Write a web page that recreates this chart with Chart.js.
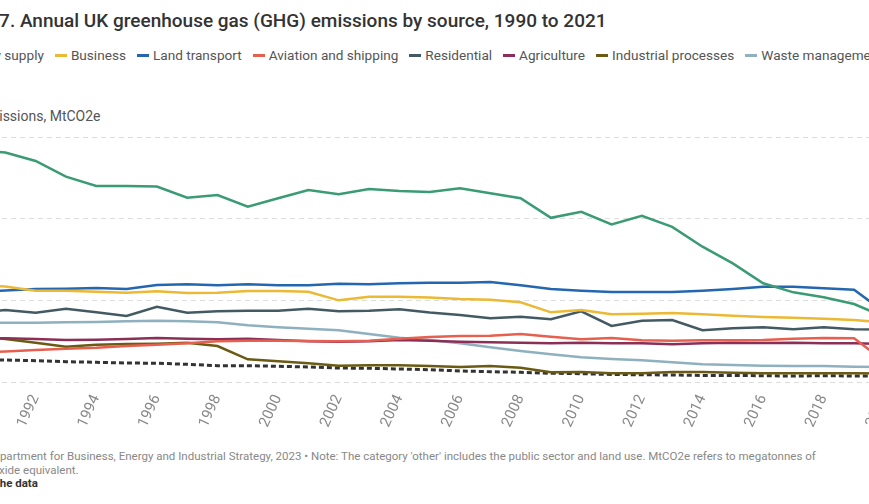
<!DOCTYPE html>
<html>
<head>
<meta charset="utf-8">
<script src="https://cdn.jsdelivr.net/npm/chart.js@4.4.0/dist/chart.umd.min.js"></script>
<style>
html, body { margin: 0; padding: 0; background: #fff; overflow: hidden; width: 869px; height: 504px; }
#wrap { position: absolute; left: -61px; top: 0; width: 1010px; height: 504px; font-family: Roboto, sans-serif; }
#title { position: absolute; left: 2px; top: 9px; font-size: 19px; font-weight: 500; color: #333; white-space: nowrap; }
#legend { position: absolute; left: 5px; top: 46px; display: flex; font-size: 13.6px; color: #555; white-space: nowrap; line-height: 18px; }
.item { display: flex; align-items: center; margin-right: 11px; }
.mark { width: 12px; height: 0; border-top: 3px solid; margin-right: 4px; }
#ytitle { position: absolute; left: 40px; top: 108px; font-size: 14px; color: #555; white-space: nowrap; }
#chartBox { position: absolute; left: 0; top: 117px; width: 1002px; height: 323px; }
#footer { position: absolute; left: 6px; top: 450px; font-size: 11.5px; color: #888; line-height: 13.5px; white-space: nowrap; }
#footer b { color: #333; margin-left: 30px; }
</style>
</head>
<body>
<div id="wrap">
  <div id="title">Figure 7. Annual UK greenhouse gas (GHG) emissions by source, 1990 to 2021</div>
  <div id="legend"></div>
  <div id="ytitle">Emissions, MtCO2e</div>
  <div id="chartBox"><canvas id="myChart" width="1002" height="323"></canvas></div>
  <div id="footer">Source: Department for Business, Energy and Industrial Strategy, 2023 • Note: The category 'other' includes the public sector and land use. MtCO2e refers to megatonnes of<br>carbon dioxide equivalent.<br><b>Get the data</b></div>
</div>
<script>
const years = ['1990','1991','1992','1993','1994','1995','1996','1997','1998','1999','2000','2001','2002','2003','2004','2005',
  '2006','2007','2008','2009','2010','2011','2012','2013','2014','2015','2016','2017','2018','2019','2020','2021'];
const xTickLabels = ['1990','1992','1994','1996','1998','2000','2002','2004','2006','2008','2010','2012','2014','2016','2018','2020'];
const yTicks = [0, 100, 200, 300];

const names = ['Energy supply', 'Business', 'Land transport', 'Aviation and shipping', 'Residential',
  'Agriculture', 'Industrial processes', 'Waste management', 'Other'];
const colors = ['#3a9b74', '#ecb934', '#2467b0', '#e5604e', '#435a63', '#8c2f57', '#6b5a14', '#8eb0bf', '#333333'];

const energySupply = [284, 281, 270.6, 251.4, 240, 240, 239.4, 225.7, 229, 214.6, 225, 235, 230, 236.3, 233.9, 232.6,
  237.2, 231, 225, 201, 208.5, 193, 203.6, 190, 165.7, 145.3, 120.9, 109.8, 103.7, 95.5, 79.6, 82];
const business = [118.8, 116.9, 111.8, 111.8, 110.6, 109.3, 111.1, 109, 109.3, 111.4, 111.4, 110.6, 100, 104.4, 104.4, 103.4,
  101.6, 100.8, 97.6, 85.3, 88.2, 82.9, 83.6, 84.5, 82.9, 81.2, 79.6, 78.7, 77.5, 75.9, 72.9, 73.5];
const landTransport = [110.2, 112, 113.9, 114.2, 115.1, 113.9, 118.8, 119.6, 118.4, 119.6, 118.4, 118.4, 120.4, 119.6, 120.9, 121.6,
  121.6, 122.4, 118.4, 113.9, 111.8, 110.2, 110.2, 110.2, 111.8, 113.9, 116.7, 116.7, 114.7, 113, 85.7, 100.4];
const aviationShipping = [36.1, 37.3, 39.2, 40.8, 42, 44.1, 45.7, 47.4, 49.8, 50.6, 50.6, 50.2, 49.8, 50.6, 53, 55.1,
  56.3, 56.7, 58.8, 55.5, 52.3, 53.9, 51.1, 50.6, 51.1, 51.1, 51.4, 53, 53.9, 53.5, 25.3, 24.5];
const residential = [84.5, 88.2, 84.9, 89.8, 85.3, 80.8, 92.2, 84.9, 86.6, 87.3, 87.3, 89.8, 86.6, 87.3, 89, 85.1,
  82.1, 78, 80, 76.8, 86.6, 68.6, 75.1, 75.9, 63.3, 65.8, 67, 64.5, 67, 64.5, 64.3, 66.1];
const agriculture = [53.5, 53.5, 52.7, 51.4, 51.8, 52.7, 53.9, 53, 52.3, 53, 51.4, 49.8, 49.3, 49.8, 51.4, 50.6,
  49.3, 48.6, 48.1, 47.4, 48.1, 47.4, 47.4, 46.2, 47.4, 48.1, 47.8, 48.1, 47.4, 47.4, 46.5, 46.5];
const industrialProcesses = [55.7, 52.7, 48.1, 43.2, 45.7, 46.5, 46.9, 48.1, 44.1, 27.8, 25.3, 22.9, 20, 20.4, 20.4, 19.6,
  18.4, 19.6, 17.5, 11.9, 12.2, 10.6, 10.6, 12.2, 12.2, 11.4, 10.6, 10.6, 10.6, 10.6, 10.4, 10.4];
const wasteManagement = [72.6, 72.6, 72.6, 73.1, 73.5, 74.3, 75.1, 74.3, 73.1, 69.4, 66.9, 65.2, 63.3, 58.8, 54.2, 51.4,
  47.4, 42.5, 37.9, 33.9, 30.2, 28.2, 26.6, 24.1, 21.7, 20.8, 20, 19.6, 19.6, 18.7, 18.4, 18.4];
const other = [27.6, 26.9, 26.1, 24.9, 24.1, 23.3, 22.9, 21.7, 20, 20, 19.2, 18.4, 17.1, 16.8, 15.9, 15.1,
  13.5, 12.6, 11.9, 10.7, 10.2, 9.2, 8.9, 8.6, 8, 8, 7.7, 7.3, 7.7, 7.3, 7.3, 7.3];

const values = [energySupply, business, landTransport, aviationShipping, residential,
  agriculture, industrialProcesses, wasteManagement, other];

// legend in html, built from the same names / colours
const legend = document.getElementById('legend');
names.forEach((n, i) => {
  const item = document.createElement('div');
  item.className = 'item';
  const mark = document.createElement('span');
  mark.className = 'mark';
  mark.style.borderTopColor = colors[i];
  if (n === 'Other') mark.style.borderTopStyle = 'dashed';
  item.appendChild(mark);
  item.appendChild(document.createTextNode(n));
  legend.appendChild(item);
});

const datasets = names.map((n, i) => ({
  label: n,
  data: values[i],
  borderColor: colors[i],
  backgroundColor: colors[i],
  borderWidth: n === 'Other' ? 3 : 2.5,
  borderDash: n === 'Other' ? [5, 3] : [],
  pointRadius: 0,
  tension: 0,
  fill: false
}));

const config = {
  type: 'line',
  data: { labels: years, datasets: datasets },
  options: {
    responsive: false,
    animation: false,
    devicePixelRatio: 1,
    layout: { padding: { top: 20, right: 24, left: 0, bottom: 0 } },
    scales: {
      x: {
        offset: false,
        grid: { display: false, drawTicks: false },
        border: { display: false },
        ticks: {
          autoSkip: false,
          maxRotation: 65,
          minRotation: 65,
          padding: 10,
          color: '#888',
          font: { family: 'Roboto', size: 15 },
          callback: function (v, i) {
            const y = years[i];
            return xTickLabels.includes(y) ? y : '';
          }
        },
        afterFit: (s) => { s.height = 58; }
      },
      y: {
        min: 0,
        max: 300,
        afterBuildTicks: (s) => { s.ticks = yTicks.map(v => ({ value: v })); },
        grid: { color: '#dddddd', drawTicks: false, lineWidth: 1 },
        border: { display: false, dash: [5, 4] },
        ticks: { color: '#888', padding: 6, font: { family: 'Roboto', size: 14 } },
        afterFit: (s) => { s.width = 36; }
      }
    },
    plugins: {
      legend: { display: false },
      tooltip: { enabled: false }
    }
  }
};

var myChart = new Chart(document.getElementById('myChart'), config);
</script>
</body>
</html>
